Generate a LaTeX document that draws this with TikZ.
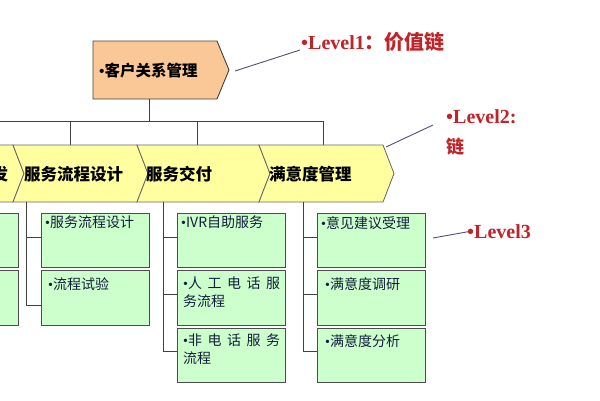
\documentclass[tikz,border=0pt]{standalone}
\usepackage{fontspec}
\setmainfont{Liberation Serif}
\newfontfamily\cjk{Noto Sans CJK SC}
\newcommand{\bul}{{\rmfamily\fontspec{Liberation Serif}•}}
\begin{document}
\begin{tikzpicture}[x=1pt,y=-1pt,
  ln/.style={draw=black!75,line width=0.8pt},
  chev/.style={draw=black!60,fill={rgb,255:red,255;green,255;blue,160},line width=0.8pt},
  gbox/.style={draw=black!70,fill={rgb,255:red,204;green,255;blue,204},line width=0.9pt},
  gtxt/.style={anchor=north west,inner sep=0pt,font=\cjk\fontsize{14}{18}\selectfont,text={rgb,255:red,20;green,30;blue,60},align=left},
  ctxt/.style={anchor=west,inner sep=0pt,font=\cjk\bfseries\fontsize{16.5}{18}\selectfont},
  lvl/.style={anchor=west,inner sep=0pt,text={rgb,255:red,192;green,36;blue,40},font=\bfseries\fontsize{20}{22}\selectfont},
  pl/.style={draw={rgb,255:red,80;green,80;blue,120},line width=0.9pt}]
\useasboundingbox (0,0) rectangle (600,400);
\fill[white] (0,0) rectangle (600,400);
% top box
\filldraw[draw=black!75,fill={rgb,255:red,249;green,200;blue,150},line width=0.9pt]
  (93,41) -- (217,41) -- (229,70) -- (217,99) -- (93,99) -- cycle;
\node[ctxt,font=\cjk\bfseries\fontsize{15.5}{18}\selectfont] (top) at (99,71) {\bul 客户关系管理};
\coordinate (stem) at (149,99);
\coordinate (hj) at (149,121);
\draw[ln] (stem) -- (hj);
\draw[ln] (0,121) -- (323,121);
\foreach \x in {70,197,323} \draw[ln] (\x,121) -- (\x,145);
% chevrons
\foreach \a/\b in {-110/13,13/137,137/259,259/383}
  \filldraw[chev] (\a,145) -- (\b,145) -- (\b+11,173.5) -- (\b,202) -- (\a,202) -- (\a+11,173.5) -- cycle;
\node[ctxt] (c1) at (-25,174) {开发};
\node[ctxt] (c2) at (24,174) {服务流程设计};
\node[ctxt] (c3) at (146,174) {服务交付};
\node[ctxt] (c4) at (269,174) {满意度管理};
% brackets
\draw[ln] (26,202) -- (26,305) -- (41,305);
\draw[ln] (26,237) -- (41,237);
\foreach \x/\l in {163/177,303/317}{
  \draw[ln] (\x,202) -- (\x,351) -- (\l,351);
  \draw[ln] (\x,237) -- (\l,237);
  \draw[ln] (\x,294) -- (\l,294);
}
% green boxes
\foreach \x in {-90,41}{
  \filldraw[gbox] (\x,213) rectangle (\x+108,267);
  \filldraw[gbox] (\x,270) rectangle (\x+108,325);
}
\foreach \x in {177,317}{
  \filldraw[gbox] (\x,213) rectangle (\x+108,267);
  \filldraw[gbox] (\x,270) rectangle (\x+108,325);
  \filldraw[gbox] (\x,328) rectangle (\x+108,382);
}
\node[gtxt] (b21) at (45,216) {\bul 服务流程设计};
\node[gtxt] (b22) at (48,277) {\bul 流程试验};
\node[gtxt] (b31) at (181,216) {\bul IVR自助服务};
\node[gtxt,text width=97pt] (b32) at (183,277) {\bul 人\hfill 工\hfill 电\hfill 话\hfill 服\\ 务流程};
\node[gtxt,text width=97pt] (b33) at (183,334) {\bul 非\hfill 电\hfill 话\hfill 服\hfill 务\\ 流程};
\node[gtxt] (b41) at (321,216) {\bul 意见建议受理};
\node[gtxt] (b42) at (325,277) {\bul 满意度调研};
\node[gtxt] (b43) at (325,334) {\bul 满意度分析};
% level labels
\node[lvl] (l1) at (301,42) {•Level1{\cjk ：价值链}};
\node[lvl] (l2) at (446,117) {•Level2:};
\node[lvl,font=\cjk\bfseries\fontsize{18}{20}\selectfont] (l2b) at (446,147) {链};
\node[lvl] (l3) at (467,232) {•Level3};
\coordinate (p1a) at (235,71); \coordinate (p1b) at (300,50);
\coordinate (p2a) at (386,147); \coordinate (p2b) at (433,125);
\coordinate (p3a) at (433,238); \coordinate (p3b) at (472,231);
\draw[pl] (p1a) -- (p1b);
\draw[pl] (p2a) -- (p2b);
\draw[pl] (p3a) -- (p3b);
\end{tikzpicture}
\end{document}
